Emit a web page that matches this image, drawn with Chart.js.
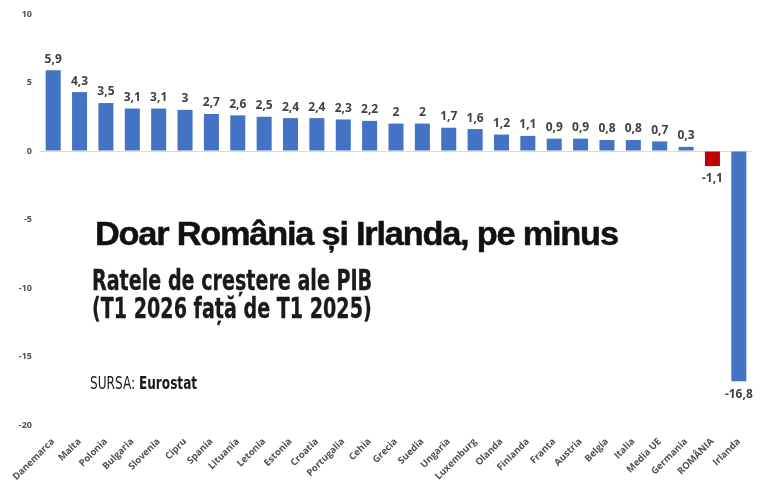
<!DOCTYPE html>
<html>
<head>
<meta charset="utf-8">
<script src="https://cdn.jsdelivr.net/npm/chart.js@4"></script>
<style>
  body { margin: 0; background: #fff; }
  #wrap { position: relative; width: 768px; height: 483px; }
  .txt { position: absolute; white-space: nowrap; color: #111; transform-origin: 0 0; }
  #title { left: 95px; top: 216px; font: bold 34px/34px "Liberation Sans", Arial, sans-serif; letter-spacing: -1.2px; -webkit-text-stroke: 0.5px #111; }
  #sub { left: 92px; top: 267px; font: bold 28px/28px "Liberation Sans Narrow", "DejaVu Sans Condensed", sans-serif; color: #1a1a1a; -webkit-text-stroke: 0.3px #1a1a1a; }
  #src { left: 90px; top: 375px; font: 17px/17px "Liberation Sans Narrow", "DejaVu Sans Condensed", sans-serif; color: #1a1a1a; }
</style>
</head>
<body>
<div id="wrap">
  <canvas id="grafic" width="768" height="483"></canvas>
  <div class="txt" id="title">Doar România și Irlanda, pe minus</div>
  <div class="txt" id="sub">Ratele de creștere ale PIB<br>(T1 2026 față de T1 2025)</div>
  <div class="txt" id="src">SURSA: <b>Eurostat</b></div>
</div>
<script>
const tari = ['Danemarca', 'Malta', 'Polonia', 'Bulgaria', 'Slovenia', 'Cipru', 'Spania', 'Lituania',
    'Letonia', 'Estonia', 'Croatia', 'Portugalia', 'Cehia', 'Grecia', 'Suedia', 'Ungaria',
    'Luxemburg', 'Olanda', 'Finlanda', 'Franta', 'Austria', 'Belgia', 'Italia', 'Media UE',
    'Germania', 'ROMÂNIA', 'Irlanda']
const cresteri = [5.9, 4.3, 3.5, 3.1, 3.1, 3, 2.7, 2.6, 2.5, 2.4, 2.4, 2.3, 2.2, 2, 2, 1.7,
    1.6, 1.2, 1.1, 0.9, 0.9, 0.8, 0.8, 0.7, 0.3, -1.1, -16.8]
const yTicks = [10, 5, 0, -5, -10, -15, -20]

// fit header texts to their widths in the picture
function fit(id, w) {
    const el = document.getElementById(id)
    el.style.transform = 'scaleX(' + (w / el.offsetWidth) + ')'
}
fit('title', 523)
fit('sub', 280)
fit('src', 107)

const valori = {
    id: 'valori',
    afterDatasetsDraw(chart) {
        const c = chart.ctx
        const meta = chart.getDatasetMeta(0)
        c.save()
        c.font = 'bold 12px "Open Sans", sans-serif'
        c.fillStyle = '#404040'
        c.textAlign = 'center'
        meta.data.forEach((bar, i) => {
            const v = cresteri[i]
            const txt = String(v).replace('.', ',')
            if (v >= 0) {
                c.textBaseline = 'bottom'
                c.fillText(txt, bar.x, bar.y - 5)
            } else {
                c.textBaseline = 'top'
                c.fillText(txt, bar.x, bar.y + 7)
            }
        })
        c.restore()
    }
}

const ctx = document.getElementById('grafic').getContext('2d')

new Chart(ctx, {
    type: 'bar',
    data: {
        labels: tari,
        datasets: [{
            data: cresteri,
            backgroundColor: tari.map(t => t === 'ROMÂNIA' ? '#c00000' : '#4472c4'),
            categoryPercentage: 1,
            barPercentage: 0.57
        }]
    },
    options: {
        responsive: false,
        animation: false,
        layout: { padding: { top: 14, right: 16, left: 0, bottom: 0 } },
        plugins: {
            legend: { display: false },
            tooltip: { enabled: false }
        },
        scales: {
            x: {
                grid: { display: false },
                border: { display: false },
                ticks: {
                    minRotation: 45,
                    maxRotation: 45,
                    autoSkip: false,
                    color: '#505050',
                    padding: 3,
                    font: { family: '"Open Sans", sans-serif', size: 9.5, weight: 'bold' }
                },
                afterFit: s => { s.height = 58 }
            },
            y: {
                min: -20,
                max: 10,
                afterBuildTicks: s => { s.ticks = yTicks.map(v => ({ value: v })) },
                grid: {
                    drawTicks: false,
                    color: c => c.tick && c.tick.value === 0 ? '#d9d9d9' : 'rgba(0,0,0,0)'
                },
                border: { display: false },
                ticks: {
                    color: '#505050',
                    padding: 8,
                    font: { family: '"Open Sans", sans-serif', size: 9, weight: 'bold' }
                },
                afterFit: s => { s.width = 40 }
            }
        }
    },
    plugins: [valori]
})
</script>
</body>
</html>
